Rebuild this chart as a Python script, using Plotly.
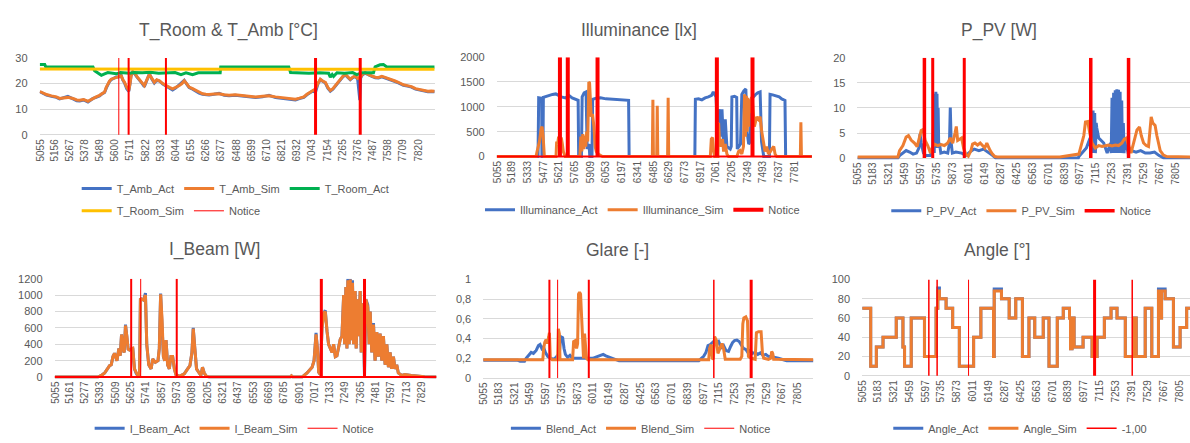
import plotly.graph_objects as go

# ---------------- data (row number on the x axis) ----------------
notice_rows = [5628, 5700, 5973, 7068, 7395]

# T_Room & T_Amb [°C]
t_rows = [5050, 5075, 5099, 5135, 5171, 5195, 5220, 5255, 5293, 5320,
          5342, 5370, 5402, 5420, 5439, 5462, 5487, 5505, 5524, 5536,
          5548, 5560, 5572, 5590, 5609, 5627, 5645, 5658, 5670, 5686,
          5701, 5710, 5718, 5730, 5742, 5760, 5779, 5797, 5815, 5834,
          5852, 5870, 5888, 5906, 5925, 5950, 5973, 5998, 6022, 6046,
          6071, 6090, 6107, 6125, 6143, 6168, 6192, 6216, 6241, 6265,
          6289, 6325, 6362, 6400, 6435, 6480, 6532, 6580, 6629, 6680,
          6727, 6775, 6824, 6870, 6921, 6950, 6982, 7005, 7030, 7050,
          7067, 7085, 7103, 7120, 7140, 7158, 7176, 7195, 7213, 7230,
          7249, 7268, 7286, 7304, 7322, 7340, 7358, 7376, 7392, 7398,
          7410, 7431, 7455, 7480, 7505, 7529, 7553, 7577, 7600, 7626,
          7650, 7674, 7692, 7711, 7740, 7770, 7800, 7830, 7860, 7890,
          7915, 7940]
t_amb_act = [16.8, 16.0, 15.5, 15.0, 14.6, 14.0, 14.5, 15.0, 14.0, 13.3,
             13.2, 13.6, 12.8, 13.4, 14.2, 14.6, 15.2, 16.0, 16.5, 18.2,
             19.6, 20.8, 21.5, 22.2, 22.6, 22.6, 23.2, 21.3, 20.2, 18.0,
             17.0, 19.8, 23.2, 24.6, 24.0, 22.6, 21.5, 20.2, 18.8, 21.3,
             23.8, 21.8, 20.2, 21.3, 21.0, 19.8, 19.0, 18.2, 17.5, 18.3,
             19.5, 20.2, 21.3, 19.8, 18.4, 17.8, 17.0, 16.3, 15.8, 15.6,
             15.5, 15.8, 16.2, 15.4, 15.2, 15.4, 15.2, 15.0, 14.6, 14.8,
             15.4, 14.5, 14.2, 14.0, 13.6, 14.1, 14.6, 15.6, 16.4, 17.2,
             16.5, 19.8, 21.5, 20.8, 20.2, 18.2, 17.0, 17.8, 19.0, 20.2,
             21.5, 22.6, 23.4, 22.3, 21.5, 22.3, 22.8, 21.8, 13.5, 22.2,
             23.3, 24.1, 23.3, 22.8, 22.3, 22.2, 22.6, 22.2, 21.8, 21.5,
             20.8, 20.3, 19.8, 19.3, 19.0, 18.6, 17.8, 17.4, 17.1, 16.8,
             16.9, 16.8]
t_amb_sim = [16.9, 16.2, 15.7, 15.2, 14.8, 14.2, 14.4, 14.6, 14.2, 13.6,
             13.5, 13.8, 13.1, 13.6, 14.4, 14.8, 15.4, 16.0, 16.7, 18.5,
             19.8, 21.0, 21.7, 22.0, 22.4, 22.8, 23.0, 21.5, 20.5, 18.5,
             17.3, 20.0, 23.0, 24.5, 24.3, 22.8, 21.7, 20.5, 19.2, 21.5,
             23.6, 22.0, 20.5, 21.5, 21.1, 20.0, 19.2, 18.5, 17.9, 18.5,
             19.2, 20.0, 21.1, 20.0, 18.6, 18.0, 17.3, 16.5, 16.0, 15.8,
             15.7, 15.9, 16.0, 15.6, 15.4, 15.6, 15.4, 15.2, 14.8, 15.0,
             15.2, 14.8, 14.4, 14.2, 13.9, 14.3, 14.8, 15.8, 16.7, 17.5,
             17.9, 20.0, 21.7, 21.0, 20.5, 18.5, 17.3, 18.0, 19.2, 20.5,
             21.7, 22.8, 23.6, 22.5, 21.7, 22.5, 23.0, 22.0, 22.4, 22.6,
             23.5, 24.3, 23.5, 23.0, 22.5, 22.4, 22.8, 22.4, 22.0, 21.7,
             21.0, 20.5, 20.0, 19.5, 19.2, 18.8, 18.0, 17.6, 17.3, 17.0,
             17.1, 17.0]
room_rows = [5050, 5086, 5094, 5439, 5451, 5475, 5500, 5524, 5548, 5609,
             5640, 5706, 5740, 5800, 5860, 5920, 5998, 6040, 6083, 6120,
             6168, 6210, 6280, 6370, 6374, 6872, 6885, 6950, 7020, 7100,
             7164, 7176, 7190, 7200, 7225, 7280, 7340, 7370, 7407, 7492,
             7504, 7540, 7565, 7590, 7940]
t_room_act = [27.4, 27.4, 26.5, 26.5, 25.0, 24.0, 23.2, 23.8, 24.3, 23.8,
              24.3, 24.0, 24.3, 24.2, 24.4, 24.0, 24.2, 24.3, 23.5, 24.2,
              23.5, 24.2, 24.2, 24.2, 26.5, 26.5, 24.3, 24.2, 24.0, 24.2,
              24.0, 22.5, 23.5, 22.8, 24.2, 24.0, 24.3, 23.5, 24.2, 24.2,
              26.5, 27.3, 27.4, 26.5, 26.5]
room_sim_rows = [5050, 5700, 6400, 7100, 7940]
t_room_sim = [25.7, 25.6, 25.7, 25.6, 25.6]

# Illuminance [lx]
ill_act_rows = [5048, 5427, 5433, 5450, 5460, 5463, 5472, 5476, 5500, 5530,
                5560, 5590, 5607, 5640, 5680, 5710, 5740, 5770, 5795, 5800,
                5825, 5832, 5850, 5868, 5878, 5895, 5902, 5922, 5928, 5960,
                6000, 6050, 6100, 6150, 6200, 6258, 6263, 6866, 6871, 6900,
                6930, 6960, 6990, 7020, 7035, 7045, 7060, 7072, 7084, 7096,
                7105, 7115, 7130, 7145, 7160, 7191, 7200, 7206, 7230, 7250,
                7255, 7285, 7297, 7315, 7334, 7345, 7360, 7375, 7383, 7400,
                7420, 7443, 7465, 7478, 7490, 7498, 7550, 7556, 7580, 7610,
                7640, 7663, 7693, 7699, 7940]
ill_act = [0, 0, 1180, 1175, 1170, 0, 0, 1190, 1210, 1230,
           1250, 1260, 1240, 1200, 1180, 1230, 1180, 1150, 1130, 0,
           0, 1200, 1280, 1300, 150, 250, 0, 0, 1150, 1175,
           1180, 1160, 1150, 1150, 1140, 1130, 0, 0, 1150, 1160,
           1140, 1180, 1200, 1230, 1300, 1250, 1200, 700, 800, 950,
           400, 950, 200, 750, 200, 150, 200, 1200, 1210, 1190,
           150, 250, 1250, 1320, 1360, 500, 250, 300, 1150, 1200,
           1240, 1280, 1300, 300, 100, 0, 0, 1250, 1240, 1220,
           1200, 1160, 1130, 0, 0]
ill_sim_rows = [5048, 5409, 5418, 5440, 5455, 5464, 5474, 5485, 5592, 5598,
                5607, 5616, 5630, 5640, 5650, 5659, 5677, 5811, 5820, 5829,
                5838, 5847, 5856, 5865, 5874, 5883, 5893, 5900, 5915, 5927,
                5940, 5951, 5962, 5979, 5995, 6018, 6476, 6481, 6486, 6516,
                6521, 6526, 6616, 6621, 6626, 7008, 7017, 7029, 7038, 7048,
                7078, 7084, 7093, 7108, 7120, 7130, 7145, 7160, 7175, 7252,
                7267, 7280, 7297, 7312, 7322, 7330, 7338, 7346, 7352, 7360,
                7368, 7378, 7386, 7395, 7412, 7434, 7450, 7465, 7480, 7495,
                7510, 7525, 7541, 7560, 7571, 7590, 7602, 7617, 7834, 7839,
                7844, 7940]
ill_sim = [0, 0, 100, 300, 550, 600, 400, 0, 0, 300,
           250, 400, 300, 380, 250, 100, 0, 0, 400, 100,
           450, 150, 420, 200, 500, 300, 1500, 1480, 800, 850,
           600, 200, 100, 50, 30, 0, 0, 1140, 0, 0,
           1020, 0, 0, 1180, 0, 0, 350, 380, 100, 0,
           0, 680, 300, 200, 350, 100, 250, 50, 0, 0,
           100, 120, 50, 200, 1250, 400, 1220, 500, 1180, 600,
           1150, 880, 1200, 1100, 600, 800, 750, 800, 500, 300,
           100, 200, 50, 100, 150, 200, 50, 0, 0, 690,
           0, 0]

# P_PV [W]
pv_act_rows = [5048, 5398, 5413, 5442, 5470, 5500, 5530, 5560, 5580, 5590,
               5600, 5620, 5640, 5680, 5700, 5709, 5713, 5717, 5722, 5727,
               5732, 5737, 5742, 5747, 5752, 5758, 5770, 5800, 5830, 5845,
               5852, 5860, 5870, 5900, 5950, 5985, 6020, 6060, 6100, 6140,
               6180, 6220, 6245, 6960, 6965, 6990, 7030, 7062, 7070, 7075,
               7082, 7088, 7095, 7102, 7108, 7115, 7120, 7137, 7155, 7180,
               7210, 7240, 7245, 7252, 7258, 7266, 7272, 7280, 7286, 7294,
               7300, 7308, 7314, 7322, 7328, 7336, 7342, 7350, 7356, 7365,
               7390, 7420, 7460, 7500, 7540, 7580, 7620, 7660, 7700, 7940]
pv_act = [0, 0, 0.5, 1.0, 1.5, 1.2, 0.8, 1.0, 2.0, 4.8,
          3.0, 1.0, 0.5, 0.5, 2.0, 8.0, 1.0, 12.8, 2.0, 13.2,
          2.0, 12.8, 3.0, 10.0, 2.0, 3.0, 1.0, 1.2, 1.0, 3.0,
          10.1, 3.0, 1.0, 1.2, 1.0, 0.5, 1.2, 1.8, 1.5, 1.8,
          1.2, 0.5, 0, 0, 0.3, 1.0, 2.0, 4.0, 1.0, 9.3,
          1.0, 9.5, 1.0, 9.0, 1.0, 7.0, 6.0, 4.0, 3.5, 3.0,
          1.0, 3.0, 1.0, 12.0, 1.0, 13.0, 1.0, 13.5, 1.0, 13.7,
          1.0, 13.6, 1.0, 13.2, 1.0, 11.5, 1.0, 7.0, 1.0, 4.0,
          1.2, 1.5, 1.2, 1.5, 1.0, 1.0, 1.2, 0.5, 0, 0]
pv_sim_rows = [5048, 5398, 5413, 5442, 5470, 5490, 5513, 5542, 5565, 5585,
               5600, 5617, 5634, 5657, 5680, 5694, 5715, 5743, 5772, 5801,
               5830, 5852, 5873, 5893, 5904, 5916, 5939, 5950, 5967, 5985,
               6008, 6031, 6045, 6065, 6088, 6111, 6131, 6151, 6168, 6180,
               6197, 6217, 6238, 6260, 6500, 6800, 6965, 6985, 7008, 7022,
               7042, 7059, 7079, 7108, 7137, 7166, 7194, 7223, 7252, 7281,
               7309, 7338, 7358, 7375, 7396, 7416, 7433, 7453, 7468, 7490,
               7505, 7525, 7548, 7568, 7583, 7591, 7605, 7625, 7640, 7654,
               7669, 7697, 7726, 7940]
pv_sim = [0.2, 0.2, 1.5, 2.5, 4.2, 4.5, 3.6, 3.0, 2.3, 4.0,
          5.5, 5.7, 3.5, 2.5, 1.0, 2.0, 2.8, 2.5, 2.7, 2.5,
          3.0, 4.0, 3.0, 5.0, 6.3, 3.5, 3.8, 4.0, 2.0, 0.8,
          0.4, 1.5, 2.8, 3.0, 2.6, 3.0, 2.5, 2.0, 3.0, 2.2,
          1.5, 0.8, 0.3, 0.2, 0.25, 0.2, 0.8, 2.5, 4.5, 7.2,
          7.3, 5.0, 3.0, 2.0, 2.5, 2.3, 2.5, 2.6, 2.4, 2.6,
          2.5, 3.0, 3.8, 4.0, 2.5, 1.0, 2.5, 4.2, 5.6, 6.2,
          4.5, 3.0, 2.5, 2.3, 6.0, 8.2, 7.0, 6.5, 4.5, 3.0,
          1.5, 0.6, 0.3, 0.2]

# I_Beam [W]
beam_rows = [5050, 5376, 5402, 5427, 5444, 5464, 5477, 5490, 5502, 5520,
             5535, 5545, 5555, 5565, 5575, 5585, 5595, 5605, 5615, 5628,
             5640, 5653, 5665, 5680, 5691, 5698, 5708, 5721, 5736, 5746,
             5761, 5779, 5791, 5811, 5831, 5841, 5851, 5862, 5872, 5882,
             5892, 5904, 5917, 5929, 5942, 5955, 5967, 5992, 6030, 6055,
             6073, 6088, 6098, 6110, 6123, 6143, 6156, 6168, 6181, 6198,
             6219, 6834, 6842, 6852, 6922, 6960, 6998, 7013, 7028, 7038,
             7048, 7061, 7073, 7086, 7098, 7111, 7123, 7136, 7149, 7161,
             7174, 7186, 7199, 7211, 7224, 7237, 7244, 7254, 7262, 7269,
             7279, 7287, 7294, 7304, 7312, 7324, 7332, 7342, 7350, 7362,
             7370, 7382, 7395, 7405, 7420, 7430, 7438, 7450, 7463, 7475,
             7488, 7500, 7513, 7526, 7538, 7551, 7564, 7576, 7589, 7601,
             7614, 7626, 7639, 7651, 7677, 7700, 7750, 7800, 7850, 7940]
beam_act = [0, 0, 20, 50, 90, 140, 150, 250, 290, 200,
            350, 260, 520, 350, 300, 640, 500, 340, 330, 340,
            360, 100, 50, 10, 20, 960, 950, 940, 1025, 400,
            150, 100, 220, 180, 200, 350, 1020, 700, 250, 200,
            450, 150, 100, 250, 250, 100, 30, 10, 40, 100,
            140, 300, 600, 350, 100, 50, 20, 120, 50, 10,
            0, 0, 15, 0, 0, 50, 120, 200, 540, 350,
            60, 30, 600, 780, 815, 560, 400, 350, 300, 400,
            250, 260, 350, 460, 500, 1000, 400, 1100, 350, 1200,
            400, 1200, 450, 1180, 400, 1050, 350, 950, 500, 1050,
            300, 900, 0, 950, 880, 400, 800, 300, 660, 200,
            550, 250, 530, 200, 500, 150, 400, 120, 300, 100,
            250, 100, 150, 50, 20, 30, 20, 10, 5, 0]
beam_sim = [0, 0, 20, 50, 90, 140, 150, 250, 290, 200,
            350, 260, 520, 350, 300, 630, 500, 340, 330, 340,
            350, 100, 50, 10, 20, 960, 950, 940, 1000, 400,
            150, 100, 220, 180, 200, 350, 1010, 700, 250, 200,
            450, 150, 100, 250, 250, 100, 30, 10, 40, 100,
            140, 300, 590, 350, 100, 50, 20, 120, 50, 10,
            0, 0, 15, 0, 0, 50, 120, 200, 520, 350,
            60, 30, 600, 780, 800, 560, 400, 350, 300, 400,
            250, 260, 350, 460, 500, 1000, 400, 1100, 350, 1180,
            400, 1190, 450, 1150, 400, 1050, 350, 950, 500, 1050,
            300, 900, 100, 950, 850, 400, 800, 300, 640, 200,
            550, 250, 530, 200, 500, 150, 400, 120, 300, 100,
            250, 100, 150, 50, 20, 30, 20, 10, 5, 0]

# Glare [-]
blend_act_rows = [5048, 5352, 5372, 5410, 5424, 5448, 5468, 5488, 5512, 5532,
                  5546, 5561, 5575, 5593, 5613, 5642, 5671, 5692, 5715, 5727,
                  5744, 5756, 5768, 5788, 5808, 5831, 5977, 6006, 6029, 6052,
                  6078, 6099, 6122, 6145, 6165, 6194, 6238, 6440, 6819, 6936,
                  6959, 6979, 6999, 7017, 7037, 7057, 7075, 7090, 7110, 7133,
                  7153, 7174, 7197, 7215, 7232, 7249, 7270, 7290, 7308, 7328,
                  7348, 7366, 7386, 7406, 7430, 7453, 7476, 7499, 7523, 7546,
                  7575, 7604, 7633, 7677, 7706, 7940]
blend_act = [0.18, 0.18, 0.17, 0.17, 0.2, 0.23, 0.26, 0.25, 0.28, 0.33,
             0.34, 0.3, 0.32, 0.26, 0.22, 0.2, 0.19, 0.22, 0.25, 0.42,
             0.41, 0.3, 0.24, 0.21, 0.23, 0.2, 0.2, 0.2, 0.21, 0.22,
             0.23, 0.24, 0.225, 0.215, 0.205, 0.19, 0.175, 0.175, 0.17, 0.175,
             0.2, 0.22, 0.26, 0.33, 0.34, 0.36, 0.38, 0.35, 0.37, 0.31,
             0.33, 0.28, 0.27, 0.32, 0.36, 0.38, 0.385, 0.37, 0.34, 0.3,
             0.29, 0.26, 0.28, 0.25, 0.26, 0.24, 0.255, 0.23, 0.24, 0.22,
             0.215, 0.21, 0.2, 0.185, 0.175, 0.175]
blend_sim_rows = [5048, 5570, 5578, 5587, 5599, 5610, 5622, 5628, 5636, 5651,
                  5700, 5706, 5715, 5721, 5831, 5840, 5854, 5866, 5875, 5883,
                  5892, 5901, 5910, 5918, 5927, 5936, 5945, 5953, 5965, 7023,
                  7031, 7043, 7055, 7063, 7075, 7092, 7104, 7119, 7139, 7153,
                  7168, 7299, 7313, 7322, 7331, 7348, 7363, 7371, 7395, 7430,
                  7441, 7459, 7482, 7494, 7505, 7546, 7566, 7575, 7584, 7592,
                  7940]
blend_sim = [0.185, 0.185, 0.3, 0.36, 0.39, 0.35, 0.42, 0.46, 0.2, 0.185,
             0.185, 0.5, 0.45, 0.185, 0.185, 0.37, 0.38, 0.3, 0.35, 0.85,
             0.87, 0.85, 0.62, 0.3, 0.2, 0.45, 0.3, 0.2, 0.185, 0.185,
             0.3, 0.34, 0.2, 0.19, 0.42, 0.38, 0.25, 0.3, 0.35, 0.3,
             0.19, 0.19, 0.22, 0.55, 0.61, 0.62, 0.58, 0.22, 0.2, 0.19,
             0.46, 0.47, 0.47, 0.25, 0.2, 0.19, 0.2, 0.27, 0.25, 0.19,
             0.185]
glare_ticktext = ["0", "0,2", "0,4", "0,6", "0,8", "1"]
glare_tickvals = [0, 0.2, 0.4, 0.6, 0.8, 1.0]

# Angle [°] (held until the next row)
ang_rows = [5050, 5123, 5172, 5230, 5345, 5403, 5417, 5475, 5590, 5691,
            5706, 5720, 5778, 5835, 5893, 6017, 6080, 6190, 6196, 6259,
            6326, 6383, 6441, 6498, 6548, 6622, 6672, 6744, 6796, 6850,
            6859, 6872, 6890, 6968, 7046, 7090, 7153, 7211, 7263, 7335,
            7407, 7430, 7508, 7565, 7623, 7645, 7650, 7681, 7753, 7811,
            7854, 7868, 7940]
ang_act = [70, 10, 30, 40, 60, 30, 10, 60, 20, 70,
           91, 80, 70, 50, 10, 40, 70, 20, 90, 80,
           60, 80, 20, 60, 40, 60, 10, 60, 70, 60,
           28, 60, 30, 40, 20, 40, 60, 70, 60, 20,
           60, 20, 70, 20, 90, 60, 90, 80, 30, 50,
           50, 70, 70]
ang_sim = [70, 10, 30, 40, 60, 30, 10, 60, 20, 70,
           88, 80, 70, 50, 10, 40, 70, 20, 88, 80,
           60, 80, 20, 60, 40, 60, 10, 60, 70, 60,
           28, 60, 30, 40, 20, 40, 60, 70, 60, 20,
           60, 20, 70, 20, 88, 60, 88, 80, 30, 50,
           50, 70, 70]

# x tick labels shown on each panel
ticks_temp = [5055, 5156, 5267, 5378, 5489, 5600, 5711, 5822, 5933, 6044, 6155, 6266, 6377,
              6488, 6599, 6710, 6821, 6932, 7043, 7154, 7265, 7376, 7487, 7598, 7709, 7820]
ticks_ill = [5055, 5189, 5333, 5477, 5621, 5765, 5909, 6053, 6197, 6341, 6485, 6629, 6773,
             6917, 7061, 7205, 7349, 7493, 7637, 7781]
ticks_138 = [5055, 5183, 5321, 5459, 5597, 5735, 5873, 6011, 6149, 6287, 6425, 6563, 6701,
             6839, 6977, 7115, 7253, 7391, 7529, 7667, 7805]
ticks_beam = [5055, 5161, 5277, 5393, 5509, 5625, 5741, 5857, 5973, 6089, 6205, 6321, 6437,
              6553, 6669, 6785, 6901, 7017, 7133, 7249, 7365, 7481, 7597, 7713, 7829]

for a, b in [(t_rows, t_amb_act), (t_rows, t_amb_sim), (room_rows, t_room_act),
             (room_sim_rows, t_room_sim), (ill_act_rows, ill_act), (ill_sim_rows, ill_sim),
             (pv_act_rows, pv_act), (pv_sim_rows, pv_sim), (beam_rows, beam_act),
             (beam_rows, beam_sim), (blend_act_rows, blend_act), (blend_sim_rows, blend_sim),
             (ang_rows, ang_act), (ang_rows, ang_sim)]:
    assert len(a) == len(b), (len(a), len(b))

# ---------------- styling ----------------
W, H = 1190, 443
BLUE, ORANGE, GREEN, YELLOW, RED = "#4472C4", "#ED7D31", "#00B050", "#FFC000", "#FF0000"
TXT, GRID = "#595959", "#D9D9D9"
FONT = "Liberation Sans, Arial, sans-serif"
LW = 3

# plot frames in pixels: left, right, bottom, top ; axis ranges
panels = [
    dict(box=(34.7, 431.5, 134.2, 53.5), xr=[5048, 7940], yr=[-0.57, 30], dtick=10,
         ticks=ticks_temp, title="T_Room & T_Amb [°C]", tpos=(224, 25)),
    dict(box=(493.8, 810.3, 156.5, 52.7), xr=[5048, 7940], yr=[-29, 2000], dtick=500,
         ticks=ticks_ill, title="Illuminance [lx]", tpos=(637, 25)),
    dict(box=(856.0, 1190, 158.2, 53.3), xr=[5048, 7927], yr=[-0.29, 20], dtick=5,
         ticks=ticks_138, title="P_PV [W]", tpos=(998, 25)),
    dict(box=(49.8, 433.3, 383.8, 281.0), xr=[5048, 7940], yr=[-17.8, 1200], dtick=200,
         ticks=ticks_beam, title="I_Beam [W]", tpos=(210, 251)),
    dict(box=(480.2, 811.8, 384.8, 281.7), xr=[5048, 7940], yr=[-0.0148, 1], dtick=None,
         ticks=ticks_138, title="Glare [-]", tpos=(615, 251)),
    dict(box=(860.7, 1190, 382.5, 281.7), xr=[5048, 7897], yr=[-1.51, 100], dtick=20,
         ticks=ticks_138, title="Angle [°]", tpos=(996, 251)),
]

fig = go.Figure()
layout = dict(width=W, height=H, margin=dict(l=0, r=0, t=0, b=0),
              paper_bgcolor="white", plot_bgcolor="white",
              font=dict(family=FONT, color=TXT), annotations=[], showlegend=True)

for i, p in enumerate(panels, start=1):
    l, r, b, t = p["box"]
    sfx = "" if i == 1 else str(i)
    xa = dict(domain=[l / W, r / W], range=p["xr"], anchor="y" + sfx,
              tickmode="array", tickvals=p["ticks"], ticktext=[str(v) for v in p["ticks"]],
              tickangle=-90, tickfont=dict(size=10, color=TXT, family=FONT),
              showgrid=False, zeroline=False, showline=False, ticks="")
    ya = dict(domain=[1 - b / H, 1 - t / H], range=p["yr"], anchor="x" + sfx,
              gridcolor=GRID, gridwidth=1, zeroline=False, showline=False, ticks="",
              tickfont=dict(size=11, color=TXT, family=FONT), ticklabelstandoff=11)
    if p["dtick"] is None:
        ya.update(tickmode="array", tickvals=glare_tickvals, ticktext=glare_ticktext)
    else:
        ya.update(tickmode="linear", tick0=0, dtick=p["dtick"])
    layout["xaxis" + sfx] = xa
    layout["yaxis" + sfx] = ya
    tx, ty = p["tpos"]
    layout["annotations"].append(dict(text=p["title"], x=tx / W, y=1 - ty / H,
                                      xref="paper", yref="paper", showarrow=False,
                                      xanchor="center", yanchor="middle",
                                      font=dict(size=17.5, color=TXT, family=FONT)))


def series(i, x, y, name, color, legend, width=LW, shape="linear"):
    sfx = "" if i == 1 else str(i)
    fig.add_trace(go.Scatter(x=x, y=y, name=name, mode="lines", legend=legend,
                             line=dict(color=color, width=width, shape=shape),
                             xaxis="x" + sfx, yaxis="y" + sfx, hoverinfo="skip"))


def notices(i, top, widths, legend, name, key, baseline_width=None):
    sfx = "" if i == 1 else str(i)
    xr = panels[i - 1]["xr"]
    if baseline_width:
        fig.add_trace(go.Scatter(x=xr, y=[0, 0], mode="lines", showlegend=False,
                                 line=dict(color=RED, width=baseline_width),
                                 xaxis="x" + sfx, yaxis="y" + sfx, hoverinfo="skip"))
    for k, (row, w) in enumerate(zip(notice_rows, widths)):
        fig.add_trace(go.Scatter(x=[row, row], y=[0, top], mode="lines", name=name,
                                 legend=legend, showlegend=(k == key),
                                 line=dict(color=RED, width=w),
                                 xaxis="x" + sfx, yaxis="y" + sfx, hoverinfo="skip"))


# panel 1
series(1, t_rows, t_amb_act, "T_Amb_Act", BLUE, "legend")
series(1, t_rows, t_amb_sim, "T_Amb_Sim", ORANGE, "legend")
series(1, room_rows, t_room_act, "T_Room_Act", GREEN, "legend")
series(1, room_sim_rows, t_room_sim, "T_Room_Sim", YELLOW, "legend2")
notices(1, 30, [1, 2, 2, 3, 3], "legend2", "Notice", 0)
# panel 2
series(2, ill_act_rows, ill_act, "Illuminance_Act", BLUE, "legend3")
series(2, ill_sim_rows, ill_sim, "Illuminance_Sim", ORANGE, "legend3")
notices(2, 2000, [4, 4, 4, 4, 4], "legend3", "Notice", 0, baseline_width=2)
# panel 3
series(3, pv_act_rows, pv_act, "P_PV_Act", BLUE, "legend4")
series(3, pv_sim_rows, pv_sim, "P_PV_Sim", ORANGE, "legend4")
notices(3, 20, [3.5, 3, 3, 3.5, 3.5], "legend4", "Notice", 0)
# panel 4
series(4, beam_rows, beam_act, "I_Beam_Act", BLUE, "legend5")
series(4, beam_rows, beam_sim, "I_Beam_Sim", ORANGE, "legend5")
notices(4, 1200, [2, 1, 2, 3, 3], "legend5", "Notice", 1, baseline_width=2)
# panel 5
series(5, blend_act_rows, blend_act, "Blend_Act", BLUE, "legend6")
series(5, blend_sim_rows, blend_sim, "Blend_Sim", ORANGE, "legend6")
notices(5, 1, [2, 1, 2, 1.5, 3], "legend6", "Notice", 1)
# panel 6
series(6, ang_rows, ang_act, "Angle_Act", BLUE, "legend7", shape="hv")
series(6, ang_rows, ang_sim, "Angle_Sim", ORANGE, "legend7", shape="hv")
notices(6, 100, [1.5, 1.5, 1, 3, 1.5], "legend7", "-1,00", 0)

# legend rows: left edge px, vertical centre px
legend_pos = {"legend": (72, 188), "legend2": (72, 211), "legend3": (477, 210),
              "legend4": (885, 211), "legend5": (85, 435), "legend6": (503, 435),
              "legend7": (887, 435)}
for key, (lx, ly) in legend_pos.items():
    layout[key] = dict(orientation="h", x=lx / W, y=1 - ly / H, xanchor="left",
                       yanchor="middle", bgcolor="rgba(0,0,0,0)", borderwidth=0,
                       font=dict(size=11, color=TXT, family=FONT),
                       traceorder="normal", itemclick=False, itemdoubleclick=False)

fig.update_layout(**layout)
fig.write_html("out.html", config={"displayModeBar": False})
